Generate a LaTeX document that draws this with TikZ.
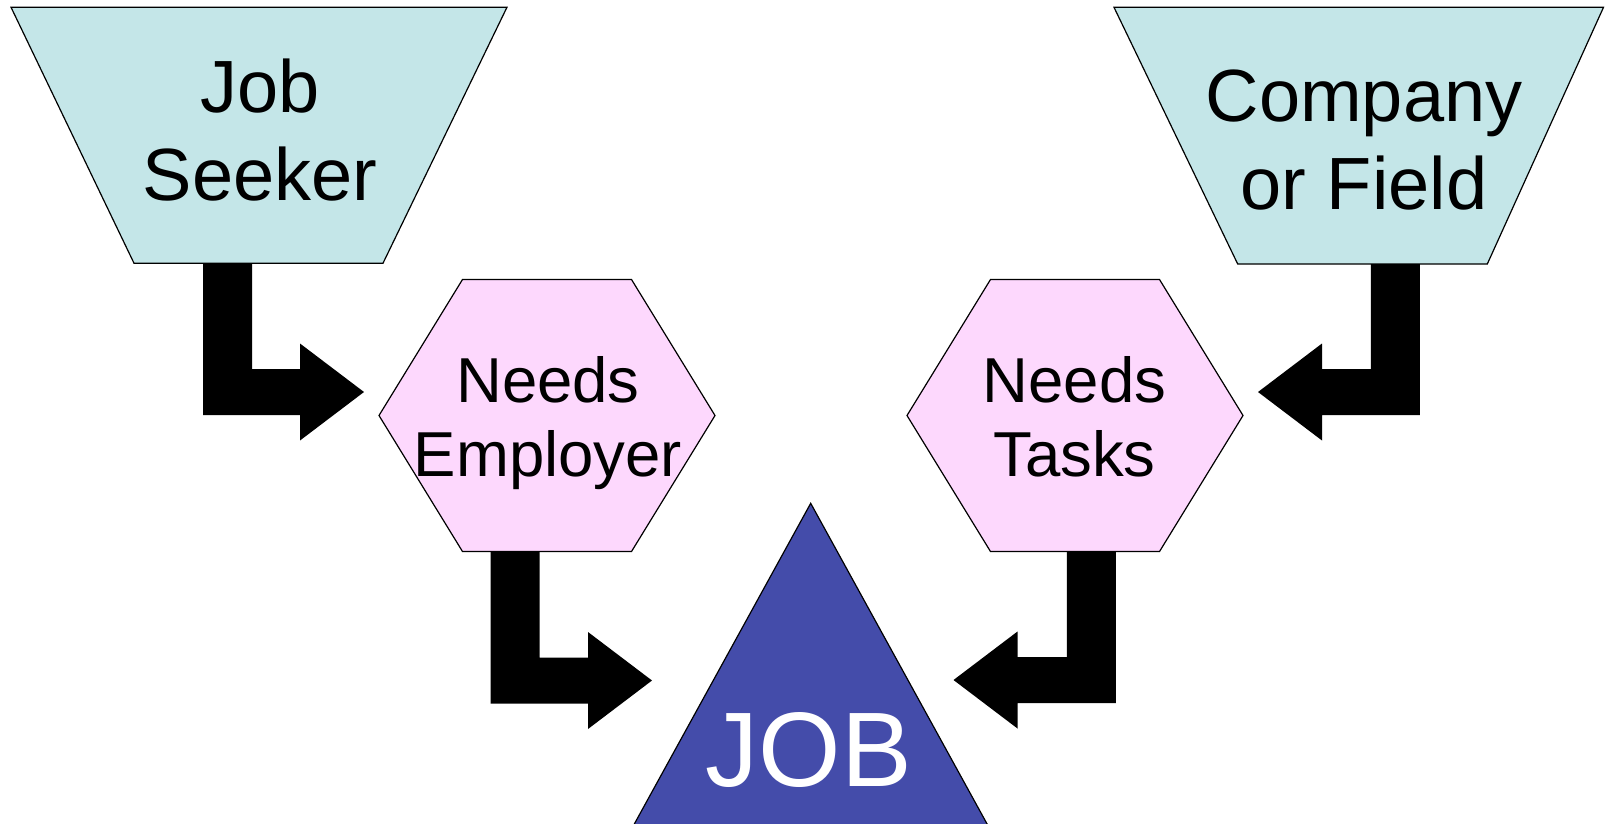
\documentclass[tikz,border=0pt]{standalone}
\usepackage{fontspec}
\setmainfont{Liberation Sans}
\usetikzlibrary{calc}

\definecolor{sourcefill}{RGB}{196,230,232}
\definecolor{needfill}{RGB}{253,216,253}
\definecolor{jobfill}{RGB}{68,76,170}

% Bent block arrow: #1 top centre of the stem, #2 the tip,
% #3 = 1 for an arrow pointing right, -1 for one pointing left.
\newcommand\bentarrow[3]{%
  \fill[black] let \p1=#1, \p2=#2 in
    ({\x1-(#3)*24.5pt},\y1) -- ({\x1+(#3)*24.5pt},\y1)
    -- ({\x1+(#3)*24.5pt},{\y2+23pt}) -- ({\x2-(#3)*64pt},{\y2+23pt})
    -- ({\x2-(#3)*64pt},{\y2+48.5pt}) -- (\x2,\y2)
    -- ({\x2-(#3)*64pt},{\y2-48.5pt}) -- ({\x2-(#3)*64pt},{\y2-23pt})
    -- ({\x1-(#3)*24.5pt},{\y2-23pt}) -- cycle;%
}

% text nodes are placed by the baseline of their last line
\tikzset{
  frame/.style={rectangle, inner sep=0pt, outer sep=0pt, draw=none},
  outline/.style={draw=black, line width=1.2pt, line join=miter},
  toptext/.style={font=\fontsize{74}{88}\selectfont, align=center, anchor=base, inner sep=0pt},
  hextext/.style={font=\fontsize{63.5}{74}\selectfont, align=center, anchor=base, inner sep=0pt},
  jobtext/.style={font=\fontsize{106}{120}\selectfont, text=white, anchor=base, inner sep=0pt},
}

\begin{document}
\begin{tikzpicture}[x=1pt, y=-1pt]
  \fill[white] (0,0) rectangle (1610,823);
  \useasboundingbox (0,0) rectangle (1610,823);

  % source trapezoids
  \node[frame, minimum width=496pt, minimum height=256pt] (seeker) at (259,135.2) {};
  \draw[outline, fill=sourcefill] (seeker.north west) -- (seeker.north east)
    -- ($(seeker.south east)+(-124,0)$) -- ($(seeker.south west)+(123,0)$) -- cycle;
  \node[toptext] (seekertext) at (260,200.7) {Job\\Seeker};

  \node[frame, minimum width=489.5pt, minimum height=256.7pt] (company) at (1358.75,135.65) {};
  \draw[outline, fill=sourcefill] (company.north west) -- (company.north east)
    -- ($(company.south east)+(-116.2,0)$) -- ($(company.south west)+(123.7,0)$) -- cycle;
  \node[toptext] (companytext) at (1364,209.3) {Company\\or Field};

  % need hexagons
  \node[frame, minimum width=336pt, minimum height=272pt] (hexL) at (547,415.5) {};
  \draw[outline, fill=needfill] (hexL.west) -- ($(hexL.north west)+(83.5,0)$)
    -- ($(hexL.north east)+(-83.5,0)$) -- (hexL.east)
    -- ($(hexL.south east)+(-83.5,0)$) -- ($(hexL.south west)+(83.5,0)$) -- cycle;
  \node[hextext] (hexLtext) at (548,476.7) {Needs\\Employer};

  \node[frame, minimum width=336pt, minimum height=272pt] (hexR) at (1075,415.5) {};
  \draw[outline, fill=needfill] (hexR.west) -- ($(hexR.north west)+(83.5,0)$)
    -- ($(hexR.north east)+(-83.5,0)$) -- (hexR.east)
    -- ($(hexR.south east)+(-83.5,0)$) -- ($(hexR.south west)+(83.5,0)$) -- cycle;
  \node[hextext] (hexRtext) at (1074.5,476.7) {Needs\\Tasks};

  % job triangle
  \node[frame, minimum width=359.4pt, minimum height=326.7pt] (job) at (810.7,666.65) {};
  \draw[outline, fill=jobfill] (job.north) -- (job.south east) -- (job.south west) -- cycle;
  \node[jobtext] (jobtext) at (809,786.7) {JOB};

  % bent arrows
  \bentarrow{($(seeker.south)+(-31.5,0)$)}{($(hexL.west)+(-15,-23.5)$)}{1}
  \bentarrow{($(hexL.south)+(-32,0)$)}{($(job.center)+(-158.7,13.85)$)}{1}
  \bentarrow{($(company.south)+(36.5,0)$)}{($(hexR.east)+(15,-23.5)$)}{-1}
  \bentarrow{($(hexR.south)+(16.3,0)$)}{($(job.center)+(142.8,13.35)$)}{-1}
\end{tikzpicture}
\end{document}
